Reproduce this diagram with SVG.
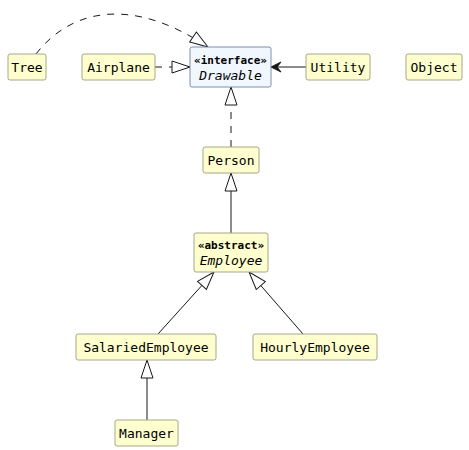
<svg xmlns="http://www.w3.org/2000/svg" width="469" height="450" viewBox="0 0 469 450">
<style>
.n{fill:#fefece;stroke:#a8a888;stroke-width:1}
.i{fill:#f1f7ff;stroke:#7f8fa8;stroke-width:1}
text{font-family:"DejaVu Sans Mono",monospace;font-size:13px;fill:#000;text-anchor:middle}
.st{font-size:11px;font-weight:bold}
.it{font-style:italic}
.e{fill:none;stroke:#181818;stroke-width:1}
.d{stroke-dasharray:7,7}
</style>
<defs>
<marker id="tri" markerUnits="userSpaceOnUse" markerWidth="20" markerHeight="14" refX="18" refY="6" orient="auto" overflow="visible">
<path d="M0,0 L18,6 L0,12 Z" fill="#fff" stroke="#181818"/>
</marker>
<marker id="arr" markerUnits="userSpaceOnUse" markerWidth="12" markerHeight="12" refX="10" refY="5" orient="auto" overflow="visible">
<path d="M0,0 L10,5 L0,10 L4,5 Z" fill="#181818" stroke="#181818"/>
</marker>
</defs>
<g id="connectors">
<path class="e d" d="M36,54 C70,10 130,-5 208,47" marker-end="url(#tri)"/>
<path class="e d" d="M155,67 L190,67" marker-end="url(#tri)"/>
<path class="e" d="M306,67 L271,67" marker-end="url(#arr)"/>
<path class="e d" d="M231,147 L231,87" marker-end="url(#tri)"/>
<path class="e" d="M231,233 L231,173" marker-end="url(#tri)"/>
<path class="e" d="M158,334 L214,272" marker-end="url(#tri)"/>
<path class="e" d="M303,334 L249,272" marker-end="url(#tri)"/>
<path class="e" d="M147,420 L147,360" marker-end="url(#tri)"/>
</g>
<g id="Tree"><rect class="n" x="8" y="54" width="38" height="26" rx="2"/><text x="27" y="72">Tree</text></g>
<g id="Airplane"><rect class="n" x="82" y="54" width="73" height="26" rx="2"/><text x="118.5" y="72">Airplane</text></g>
<g id="Drawable"><rect class="i" x="190" y="47" width="81" height="40" rx="2"/><text class="st" x="230.5" y="64">«interface»</text><text class="it" x="230.5" y="80">Drawable</text></g>
<g id="Utility"><rect class="n" x="306" y="54" width="64" height="26" rx="2"/><text x="338" y="72">Utility</text></g>
<g id="Object"><rect class="n" x="406" y="54" width="56" height="26" rx="2"/><text x="434" y="72">Object</text></g>
<g id="Person"><rect class="n" x="203" y="147" width="56" height="26" rx="2"/><text x="231" y="165">Person</text></g>
<g id="Employee"><rect class="n" x="194" y="233" width="74" height="39" rx="2"/><text class="st" x="231" y="249">«abstract»</text><text class="it" x="231" y="265">Employee</text></g>
<g id="SalariedEmployee"><rect class="n" x="76" y="334" width="140" height="26" rx="2"/><text x="146" y="352">SalariedEmployee</text></g>
<g id="HourlyEmployee"><rect class="n" x="253" y="334" width="124" height="26" rx="2"/><text x="315" y="352">HourlyEmployee</text></g>
<g id="Manager"><rect class="n" x="115" y="420" width="63" height="26" rx="2"/><text x="146.5" y="438">Manager</text></g>
</svg>
